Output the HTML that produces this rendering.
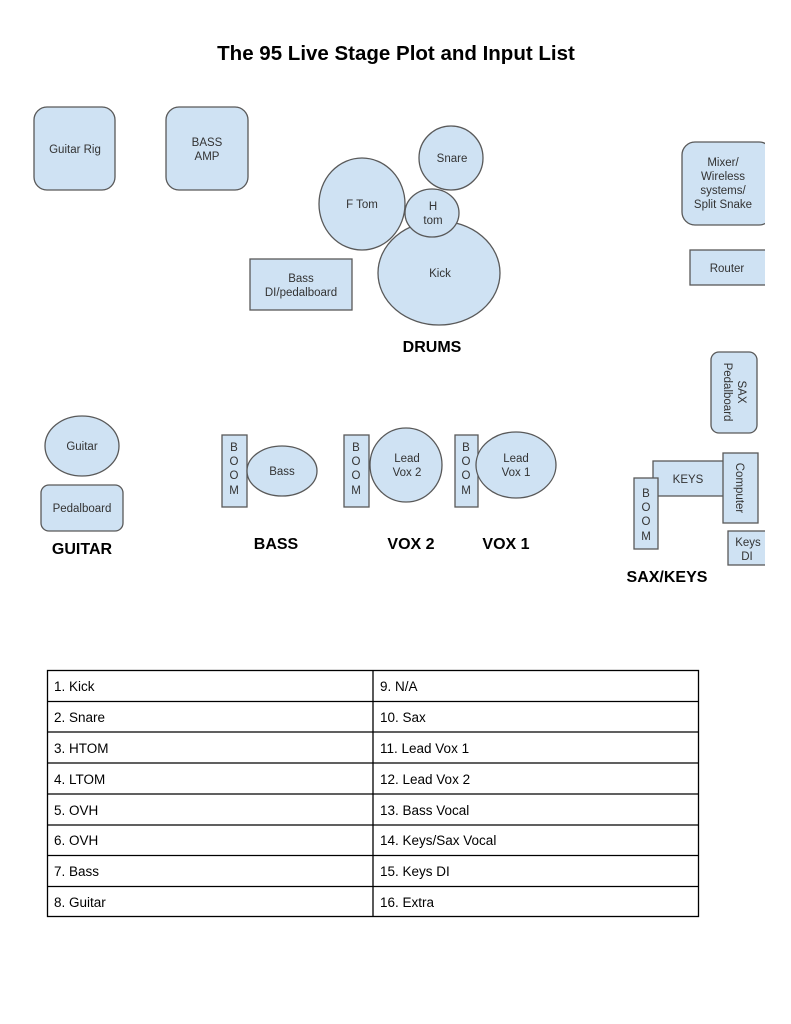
<!DOCTYPE html>
<html><head><meta charset="utf-8"><style>
html,body{margin:0;padding:0;background:#fff;}
svg{display:block;}
text{font-family:"Liberation Sans",Arial,sans-serif;fill:#333;}
.s{fill:#cfe2f3;stroke:#595959;stroke-width:1.3;}
.l{font-size:11.5px;text-anchor:middle;}
.b{font-size:16px;font-weight:bold;fill:#000;text-anchor:middle;}
.t{font-size:13.5px;fill:#000;}
</style></head><body>
<svg width="791" height="1024" viewBox="0 0 791 1024" xmlns="http://www.w3.org/2000/svg">
<text x="396" y="60" style="font-size:20.5px;font-weight:bold;fill:#000" text-anchor="middle">The 95 Live Stage Plot and Input List</text>

<rect class="s" x="34" y="107" width="81" height="83" rx="13"/>
<text class="l" x="75" y="153">Guitar Rig</text>
<rect class="s" x="166" y="107" width="82" height="83" rx="13"/>
<text class="l" x="207" y="146">BASS</text><text class="l" x="207" y="160">AMP</text>

<circle class="s" cx="451" cy="158" r="32"/>
<text class="l" x="452" y="162">Snare</text>
<ellipse class="s" cx="439" cy="273" rx="61" ry="52"/>
<ellipse class="s" cx="362" cy="204" rx="43" ry="46"/>
<ellipse class="s" cx="432" cy="213" rx="27" ry="24"/>
<text class="l" x="362" y="208">F Tom</text>
<text class="l" x="433" y="210">H</text><text class="l" x="433" y="224">tom</text>
<text class="l" x="440" y="277">Kick</text>
<rect class="s" x="250" y="259" width="102" height="51"/>
<text class="l" x="301" y="282">Bass</text><text class="l" x="301" y="296">DI/pedalboard</text>
<text class="b" x="432" y="352">DRUMS</text>

<rect class="s" x="682" y="142" width="90" height="83" rx="13"/>
<text class="l" x="723" y="166">Mixer/</text><text class="l" x="723" y="180">Wireless</text><text class="l" x="723" y="194">systems/</text><text class="l" x="723" y="208">Split Snake</text>
<rect class="s" x="690" y="250" width="80" height="35"/>
<text class="l" x="727" y="272">Router</text>
<rect class="s" x="711" y="352" width="46" height="81" rx="8"/>
<text class="l" transform="translate(738,392) rotate(90)" x="0" y="0">SAX</text>
<text class="l" transform="translate(724,392) rotate(90)" x="0" y="0">Pedalboard</text>
<rect class="s" x="653" y="461" width="71" height="35"/>
<text class="l" x="688" y="483">KEYS</text>
<rect class="s" x="723" y="453" width="35" height="70"/>
<text class="l" transform="translate(736,488) rotate(90)" x="0" y="0">Computer</text>
<rect class="s" x="634" y="478" width="24" height="71"/>
<text class="l" x="646" y="497">B</text><text class="l" x="646" y="511">O</text><text class="l" x="646" y="525">O</text><text class="l" x="646" y="540">M</text>
<rect class="s" x="728" y="531" width="42" height="34"/>
<text class="l" x="748" y="546">Keys</text><text class="l" x="747" y="560">DI</text>
<text class="b" x="667" y="582">SAX/KEYS</text>

<ellipse class="s" cx="82" cy="446" rx="37" ry="30"/>
<text class="l" x="82" y="450">Guitar</text>
<rect class="s" x="41" y="485" width="82" height="46" rx="8"/>
<text class="l" x="82" y="512">Pedalboard</text>
<text class="b" x="82" y="554">GUITAR</text>

<rect class="s" x="222" y="435" width="25" height="72"/>
<text class="l" x="234" y="451">B</text><text class="l" x="234" y="465">O</text><text class="l" x="234" y="479">O</text><text class="l" x="234" y="494">M</text>
<ellipse class="s" cx="282" cy="471" rx="35" ry="25"/>
<text class="l" x="282" y="475">Bass</text>
<text class="b" x="276" y="549">BASS</text>

<rect class="s" x="344" y="435" width="25" height="72"/>
<text class="l" x="356" y="451">B</text><text class="l" x="356" y="465">O</text><text class="l" x="356" y="479">O</text><text class="l" x="356" y="494">M</text>
<ellipse class="s" cx="406" cy="465" rx="36" ry="37"/>
<text class="l" x="407" y="462">Lead</text><text class="l" x="407" y="476">Vox 2</text>
<text class="b" x="411" y="549">VOX 2</text>

<rect class="s" x="455" y="435" width="23" height="72"/>
<text class="l" x="466" y="451">B</text><text class="l" x="466" y="465">O</text><text class="l" x="466" y="479">O</text><text class="l" x="466" y="494">M</text>
<ellipse class="s" cx="516" cy="465" rx="40" ry="33"/>
<text class="l" x="516" y="462">Lead</text><text class="l" x="516" y="476">Vox 1</text>
<text class="b" x="506" y="549">VOX 1</text>

<rect x="47.5" y="670.5" width="651" height="246" fill="none" stroke="#000" stroke-width="1.3"/>
<line x1="373" y1="670" x2="373" y2="917" stroke="#000" stroke-width="1.3"/>
<g stroke="#000" stroke-width="1.3">
<line x1="47" y1="701.5" x2="698" y2="701.5"/><line x1="47" y1="732" x2="698" y2="732"/>
<line x1="47" y1="763" x2="698" y2="763"/><line x1="47" y1="794" x2="698" y2="794"/>
<line x1="47" y1="825" x2="698" y2="825"/><line x1="47" y1="855.5" x2="698" y2="855.5"/>
<line x1="47" y1="886.5" x2="698" y2="886.5"/>
</g>
<g>
<text class="t" x="54" y="691">1. Kick</text><text class="t" x="380" y="691">9. N/A</text>
<text class="t" x="54" y="722">2. Snare</text><text class="t" x="380" y="722">10. Sax</text>
<text class="t" x="54" y="753">3. HTOM</text><text class="t" x="380" y="753">11. Lead Vox 1</text>
<text class="t" x="54" y="784">4. LTOM</text><text class="t" x="380" y="784">12. Lead Vox 2</text>
<text class="t" x="54" y="815">5. OVH</text><text class="t" x="380" y="815">13. Bass Vocal</text>
<text class="t" x="54" y="845">6. OVH</text><text class="t" x="380" y="845">14. Keys/Sax Vocal</text>
<text class="t" x="54" y="876">7. Bass</text><text class="t" x="380" y="876">15. Keys DI</text>
<text class="t" x="54" y="907">8. Guitar</text><text class="t" x="380" y="907">16. Extra</text>
</g>
<rect x="765" y="100" width="26" height="480" fill="#fff"/>
</svg>
</body></html>
